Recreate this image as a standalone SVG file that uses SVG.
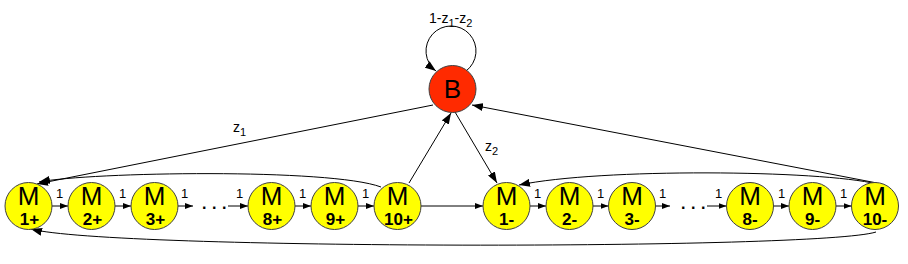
<svg xmlns="http://www.w3.org/2000/svg" width="908" height="264" viewBox="0 0 908 264">
<style>
.n circle{fill:#ffff00;stroke:#404040;stroke-width:1}
.b circle{fill:#ff2a00;stroke:#404040;stroke-width:1}
.big{font-family:"Liberation Sans",Arial,sans-serif;font-size:26px;text-anchor:middle;fill:#000}
.num{font-family:"Liberation Sans",Arial,sans-serif;font-size:17px;font-weight:bold;text-anchor:middle;fill:#000}
.lbl{font-family:"Liberation Sans",Arial,sans-serif;font-size:13px;fill:#000}
.z{font-family:"Liberation Sans",Arial,sans-serif;font-size:14px;fill:#000}
.dots{font-family:"Liberation Sans",Arial,sans-serif;font-size:16px;font-weight:bold;letter-spacing:5.5px;fill:#000}
#edges path,#edges line{fill:none;stroke:#000;stroke-width:1}
.s{marker-end:url(#arr)}
.l{marker-end:url(#arrL)}
</style>
<defs>
<marker id="arr" markerUnits="userSpaceOnUse" markerWidth="8" markerHeight="6" refX="8" refY="3" orient="auto"><path d="M0,0 L8,3 L0,6 z" fill="#000"/></marker>
<marker id="arrL" markerUnits="userSpaceOnUse" markerWidth="11" markerHeight="8" refX="11" refY="4" orient="auto"><path d="M0,0 L11,4 L0,8 z" fill="#000"/></marker>
</defs>
<rect width="908" height="264" fill="#fff"/>
<g id="edges">
<path class="l" d="M466,71 A25,25 0 1 0 436,71"/>
<line class="l" x1="433" y1="105" x2="37" y2="184"/>
<line class="l" x1="409" y1="183" x2="451" y2="113"/>
<line class="l" x1="455" y1="112" x2="497" y2="183"/>
<line class="l" x1="877" y1="183" x2="472" y2="105"/>
<line class="s" x1="421" y1="206" x2="483" y2="206"/>
<path class="l" d="M381,187 C330,168 90,172 39,182"/>
<path class="l" d="M877,184 C820,170 600,168 519,185"/>
<path class="l" d="M876,232 C820,250 110,250 31,229"/>
<line class="s" x1="52" y1="206" x2="68" y2="206"/>
<line class="s" x1="115" y1="206" x2="131" y2="206"/>
<line class="s" x1="178" y1="206" x2="193" y2="206"/>
<line class="s" x1="228" y1="206" x2="248" y2="206"/>
<line class="s" x1="295" y1="206" x2="311" y2="206"/>
<line class="s" x1="358" y1="206" x2="374" y2="206"/>
<line class="s" x1="530" y1="206" x2="546" y2="206"/>
<line class="s" x1="593" y1="206" x2="608.5" y2="206"/>
<line class="s" x1="655.5" y1="206" x2="670" y2="206"/>
<line class="s" x1="707" y1="206" x2="726.5" y2="206"/>
<line class="s" x1="773.5" y1="206" x2="789" y2="206"/>
<line class="s" x1="836" y1="206" x2="851.5" y2="206"/>
<text class="z" x="429" y="23">1-z<tspan dy="4" font-size="11">1</tspan><tspan dy="-4">-z</tspan><tspan dy="4" font-size="11">2</tspan></text>
<text class="z" x="233" y="132">z<tspan dy="4" font-size="11">1</tspan></text>
<text class="z" x="485" y="151">z<tspan dy="4" font-size="11">2</tspan></text>
<text class="lbl" x="56" y="198">1</text>
<text class="lbl" x="119" y="198">1</text>
<text class="lbl" x="181" y="198">1</text>
<text class="lbl" x="236" y="198">1</text>
<text class="lbl" x="299" y="198">1</text>
<text class="lbl" x="362" y="198">1</text>
<text class="lbl" x="534" y="198">1</text>
<text class="lbl" x="597" y="198">1</text>
<text class="lbl" x="659" y="198">1</text>
<text class="lbl" x="715" y="198">1</text>
<text class="lbl" x="778" y="198">1</text>
<text class="lbl" x="840" y="198">1</text>
<text class="dots" x="202" y="209">...</text>
<text class="dots" x="681" y="209">...</text>
</g>
<g id="B" class="b"><circle cx="452.5" cy="89" r="23.5"/><text class="big" x="452.5" y="98">B</text></g>
<g id="M1p" class="n"><circle cx="28.5" cy="206" r="23.5"/><text class="big" x="28.5" y="205">M</text><text class="num" x="29.5" y="225">1+</text></g>
<g id="M2p" class="n"><circle cx="91.5" cy="206" r="23.5"/><text class="big" x="91.5" y="205">M</text><text class="num" x="92.5" y="225">2+</text></g>
<g id="M3p" class="n"><circle cx="154.5" cy="206" r="23.5"/><text class="big" x="154.5" y="205">M</text><text class="num" x="155.5" y="225">3+</text></g>
<g id="M8p" class="n"><circle cx="271.5" cy="206" r="23.5"/><text class="big" x="271.5" y="205">M</text><text class="num" x="272.5" y="225">8+</text></g>
<g id="M9p" class="n"><circle cx="334.5" cy="206" r="23.5"/><text class="big" x="334.5" y="205">M</text><text class="num" x="335.5" y="225">9+</text></g>
<g id="M10p" class="n"><circle cx="397.5" cy="206" r="23.5"/><text class="big" x="397.5" y="205">M</text><text class="num" x="398.5" y="225">10+</text></g>
<g id="M1m" class="n"><circle cx="506.5" cy="206" r="23.5"/><text class="big" x="506.5" y="205">M</text><text class="num" x="506.5" y="225">1-</text></g>
<g id="M2m" class="n"><circle cx="569.5" cy="206" r="23.5"/><text class="big" x="569.5" y="205">M</text><text class="num" x="569.5" y="225">2-</text></g>
<g id="M3m" class="n"><circle cx="632" cy="206" r="23.5"/><text class="big" x="632" y="205">M</text><text class="num" x="632" y="225">3-</text></g>
<g id="M8m" class="n"><circle cx="750" cy="206" r="23.5"/><text class="big" x="750" y="205">M</text><text class="num" x="750" y="225">8-</text></g>
<g id="M9m" class="n"><circle cx="812.5" cy="206" r="23.5"/><text class="big" x="812.5" y="205">M</text><text class="num" x="812.5" y="225">9-</text></g>
<g id="M10m" class="n"><circle cx="875" cy="206" r="23.5"/><text class="big" x="875" y="205">M</text><text class="num" x="875" y="225">10-</text></g>
</svg>
